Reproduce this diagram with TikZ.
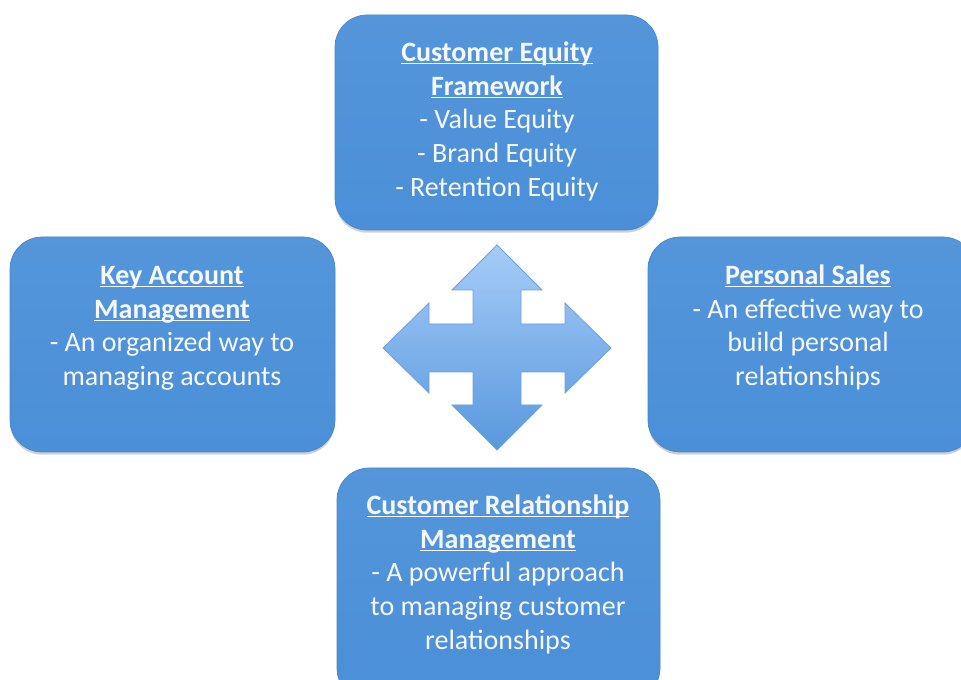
\documentclass[tikz,border=0pt]{standalone}
\usepackage{fontspec}
\setmainfont{Carlito}
\usetikzlibrary{shadows}
\definecolor{boxblue}{RGB}{74,143,216}
\definecolor{boxedge}{RGB}{70,136,206}
\definecolor{arrtop}{RGB}{166,204,247}
\definecolor{arrbot}{RGB}{88,152,222}
\definecolor{arredge}{RGB}{110,160,220}
\definecolor{txtwhite}{RGB}{246,248,252}
\newcommand{\ttl}[1]{\textbf{\underline{\smash{#1}}}}
\begin{document}
\begin{tikzpicture}[x=0.75pt,y=-0.75pt,
  box/.style={draw=boxedge, line width=0.5pt, top color=boxblue!94!white, bottom color=boxblue,
    rounded corners=24pt, drop shadow={shadow xshift=0pt, shadow yshift=-2pt, opacity=0.3, fill=black!60}},
  txt/.style={text=txtwhite, align=center, anchor=north, inner sep=0pt,
    font=\fontsize{21}{25.2}\selectfont}]
\useasboundingbox (0,0) rectangle (961,680);
\fill[white] (0,0) rectangle (961,680);
% boxes
\path[box] (335,15) rectangle (658,230);
\node[inner sep=0] (cef) at (496.5,122.5) {};
\path[box] (10,237) rectangle (335,452);
\node[inner sep=0] (kam) at (172.5,344.5) {};
\path[box] (648,237) rectangle (975,452);
\node[inner sep=0] (ps) at (811.5,344.5) {};
\path[box] (337,468) rectangle (660,700);
\node[inner sep=0] (crm) at (498.5,584) {};
% texts
\node[txt] (cefT) at (497,61.5) {\ttl{Customer Equity}\\\ttl{Framework}\\- Value Equity\\- Brand Equity\\- Retention Equity};
\node[txt] (kamT) at (172,284.5) {\ttl{Key Account}\\\ttl{Management}\\- An organized way to\\managing accounts};
\node[txt] (psT) at (808,284.5) {\ttl{Personal Sales}\\- An effective way to\\build personal\\relationships};
\node[txt] (crmT) at (498,514.5) {\ttl{Customer Relationship}\\\ttl{Management}\\- A powerful approach\\to managing customer\\relationships};
% four-way arrow
\shade[top color=arrtop, bottom color=arrbot, draw=arredge, line width=0.6pt, line join=miter]
 (497,245) -- (542,290) -- (521,290) -- (521,324) -- (565,324) -- (565,303) -- (611,348)
 -- (565,393) -- (565,372) -- (521,372) -- (521,405) -- (542,405) -- (497,450) -- (452,405)
 -- (473,405) -- (473,372) -- (429,372) -- (429,393) -- (383,348) -- (429,303) -- (429,324)
 -- (473,324) -- (473,290) -- (452,290) -- cycle;
\end{tikzpicture}
\end{document}
